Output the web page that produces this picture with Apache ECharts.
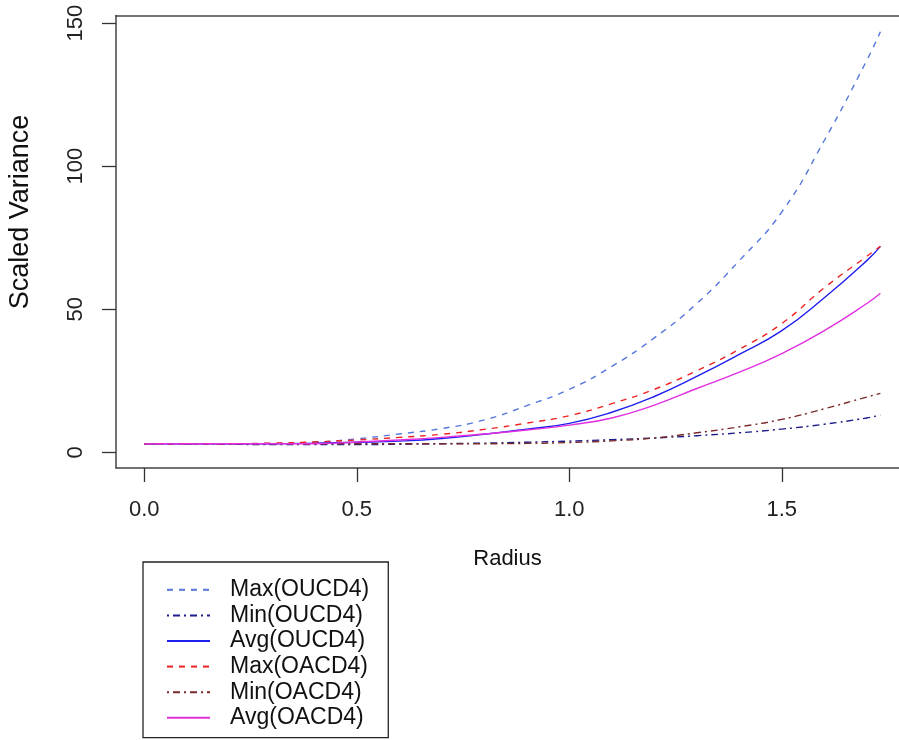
<!DOCTYPE html>
<html>
<head>
<meta charset="utf-8">
<script src="https://cdn.jsdelivr.net/npm/echarts@6/dist/echarts.min.js"></script>
<style>
html,body{margin:0;padding:0;background:#fff;}
#chart{width:899px;height:740px;}
</style>
</head>
<body>
<div id="chart"></div>
<script>
// ---- data ----
var radius = [0,0.1,0.2,0.3,0.4,0.5,0.6,0.7,0.8,0.9,1.0,1.1,1.2,1.3,1.4,1.5,1.6,1.7,1.732];
var maxOUCD4 = [3,3,3,3.1,3.5,4.7,6.4,8.3,11.3,16.3,22,30,40,52,67,84,109,137,147];
var minOUCD4 = [3,3,2.8,2.7,2.7,2.7,2.8,3.0,3.2,3.5,3.9,4.4,5.0,5.8,6.8,8.1,9.8,12,13];
var avgOUCD4 = [3,3,3,3,3.2,3.5,3.9,4.8,6.3,8.1,10.1,14,19.5,26.5,34.2,42.5,54,67,72];
var maxOACD4 = [3,3,3,3.2,3.6,4.3,5.2,6.3,8.0,10.2,12.8,17,22,28.5,36,45,57.5,68.5,72];
var minOACD4 = [3,3,3,3,3,3,3,3,3,3.1,3.4,4.0,5.0,6.8,8.9,11.5,15.2,19.3,20.6];
var avgOACD4 = [3,3,3,3,3,3.6,4.3,5.2,6.4,7.8,9.5,12,16.5,22.3,28,34.5,42.5,52,55.6];

var seriesNames = ['Max(OUCD4)','Min(OUCD4)','Avg(OUCD4)','Max(OACD4)','Min(OACD4)','Avg(OACD4)'];
var seriesValues = [maxOUCD4, minOUCD4, avgOUCD4, maxOACD4, minOACD4, avgOACD4];

var xTicks = [0, 0.5, 1, 1.5];
var xTickLabels = ['0.0', '0.5', '1.0', '1.5'];
var yTicks = [0, 50, 100, 150];
var yTickLabels = ['0', '50', '100', '150'];

// ---- styles ----
var styles = [
  {color:'#5577dd', type:[6,6], width:1.4},
  {color:'#1c1c8a', type:[2,4,7,4], width:1.4},
  {color:'#1f1ff0', type:'solid', width:1.4},
  {color:'#ee2222', type:[6,6], width:1.4},
  {color:'#7a2a2a', type:[2,4,7,4], width:1.4},
  {color:'#e030e0', type:'solid', width:1.4}
];

function pairs(vals){
  return radius.map(function(r,i){ return [r, vals[i]]; });
}

var series = seriesNames.map(function(name, k){
  return {
    name: name,
    type: 'line',
    data: pairs(seriesValues[k]),
    symbol: 'none',
    smooth: 0.5,
    color: styles[k].color,
    itemStyle: {color: styles[k].color},
    lineStyle: {color: styles[k].color, type: styles[k].type, width: styles[k].width},
    animation: false,
    z: 2 + k
  };
});

var FONT = '"Liberation Sans", Arial, sans-serif';
var AXC = '#444';
var chart = echarts.init(document.getElementById('chart'), null, {renderer:'canvas'});
chart.setOption({
  backgroundColor: '#ffffff',
  animation: false,
  textStyle: {fontFamily: FONT, color: '#000'},
  grid: {
    left: 116, top: 15.5, right: 0, height: 452.5,
    show: false
  },
  xAxis: [{
    type: 'value',
    min: -0.0666, max: 1.7758,
    name: 'Radius',
    nameLocation: 'middle',
    nameGap: 80,
    nameTextStyle: {fontFamily: FONT, fontSize: 22, color: '#111'},
    axisLine: {show: true, onZero: false, lineStyle: {color: AXC, width: 1.5}},
    splitLine: {show: false},
    axisTick: {show: true, inside: false, length: 14, customValues: xTicks, lineStyle: {color: '#333', width: 1.3}},
    axisLabel: {
      show: true, customValues: xTicks, margin: 31,
      fontFamily: FONT, fontSize: 22, color: '#222',
      formatter: function(v){ var i = xTicks.indexOf(v); return i >= 0 ? xTickLabels[i] : ''; }
    }
  }, {
    type: 'value', position: 'top',
    min: -0.0666, max: 1.7758,
    axisLine: {show: true, onZero: false, lineStyle: {color: AXC, width: 1.5}},
    axisTick: {show: false}, axisLabel: {show: false}, splitLine: {show: false}
  }],
  yAxis: {
    type: 'value',
    min: -5.5, max: 152.7,
    axisLine: {show: true, onZero: false, lineStyle: {color: AXC, width: 1.5}},
    splitLine: {show: false},
    axisTick: {show: true, inside: false, length: 14, customValues: yTicks, lineStyle: {color: '#333', width: 1.3}},
    axisLabel: {
      show: true, customValues: yTicks, rotate: 90, margin: 29,
      fontFamily: FONT, fontSize: 22, color: '#222',
      formatter: function(v){ var i = yTicks.indexOf(v); return i >= 0 ? yTickLabels[i] : ''; }
    }
  },
  legend: {
    orient: 'vertical',
    left: 143, top: 562,
    data: seriesNames,
    itemWidth: 43, itemHeight: 14,
    itemGap: 0,
    padding: [15, 19, 7, 23],
    borderColor: '#222', borderWidth: 1.3,
    backgroundColor: '#fff',
    itemStyle: {opacity: 0},
    textStyle: {fontFamily: FONT, fontSize: 23, color: '#111', lineHeight: 25.6, padding: [0,0,0,15]},
    selectedMode: false
  },
  graphic: [{
    type: 'text',
    x: 21, y: 212,
    rotation: Math.PI / 2,
    style: {text: 'Scaled Variance', fontFamily: FONT, fontSize: 27, fill: '#111', align: 'center', verticalAlign: 'middle'}
  }],
  series: series
});
</script>
</body>
</html>
